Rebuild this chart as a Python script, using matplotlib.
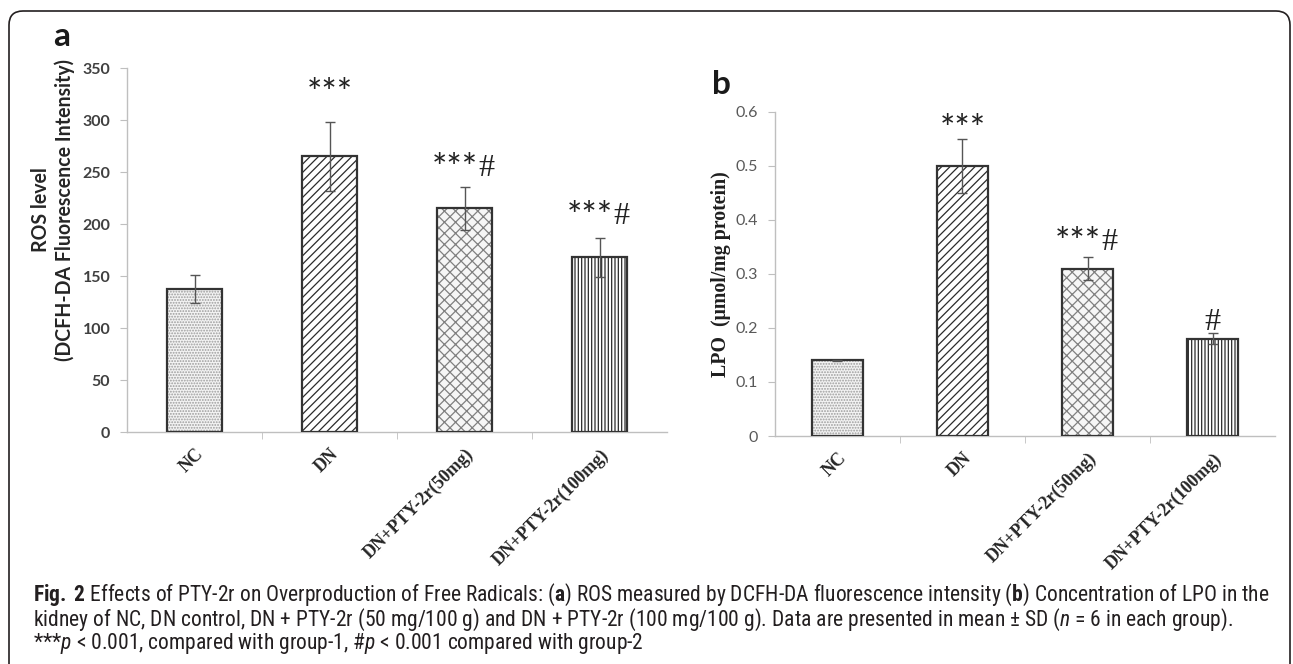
import matplotlib
matplotlib.use('Agg')
import matplotlib.pyplot as plt
from matplotlib.patches import FancyBboxPatch
from matplotlib.transforms import IdentityTransform
from matplotlib import font_manager
import numpy as np

# ---------------- data ----------------
categories = ['NC', 'DN', 'DN+PTY-2r(50mg)', 'DN+PTY-2r(100mg)']
ros_mean = [137.5, 265, 215, 168]
ros_sd = [13, 33, 21, 19]
ros_marks = ['', '***', '***#', '***#']
lpo_mean = [0.14, 0.50, 0.31, 0.18]
lpo_sd = [0.001, 0.05, 0.022, 0.01]
lpo_marks = ['', '***', '***#', '#']
ros_ticks = [0, 50, 100, 150, 200, 250, 300, 350]
ros_ticklabels = ['0', '50', '100', '150', '200', '250', '300', '350']
lpo_ticks = [0, 0.1, 0.2, 0.3, 0.4, 0.5, 0.6]
lpo_ticklabels = ['0', '0.1', '0.2', '0.3', '0.4', '0.5', '0.6']
ros_ylabel = 'ROS level\n(DCFH-DA Fluorescence Intensity)'
lpo_ylabel = 'LPO  (\u03bcmol/mg protein)'
caption_lines = [
    r'$\mathbf{Fig.}$ $\mathbf{2}$ Effects of PTY-2r on Overproduction of Free Radicals: ($\mathbf{a}$) ROS measured by DCFH-DA fluorescence intensity ($\mathbf{b}$) Concentration of LPO in the',
    r'kidney of NC, DN control, DN + PTY-2r (50 mg/100 g) and DN + PTY-2r (100 mg/100 g). Data are presented in mean $\pm$ SD ($\mathit{n}$ = 6 in each group).',
    r'***$\mathit{p}$ < 0.001, compared with group-1, #$\mathit{p}$ < 0.001 compared with group-2',
]

# ---------------- fonts ----------------
avail = {f.name for f in font_manager.fontManager.ttflist}
def pick(*names):
    for n in names:
        if n in avail:
            return n
    return 'DejaVu Sans'
SANS_B = pick('Lato', 'Open Sans', 'Liberation Sans')
SERIF = pick('Liberation Serif', 'DejaVu Serif')
CAP = pick('Liberation Sans Narrow', 'Roboto Condensed', 'Open Sans', 'Liberation Sans')
TICKF = pick('Lato', 'Open Sans', 'Liberation Sans')

plt.rcParams['mathtext.fontset'] = 'custom'
plt.rcParams['mathtext.rm'] = CAP
plt.rcParams['mathtext.bf'] = CAP + ':bold'
plt.rcParams['mathtext.it'] = CAP + ':italic'
plt.rcParams['hatch.linewidth'] = 0.9

W, H = 1293, 664
fig = plt.figure(figsize=(W / 100, H / 100), dpi=100)
fig.patch.set_facecolor('white')
renderer = fig.canvas.get_renderer()

def px_rect(l, r, top, bottom):
    return [l / W, 1 - bottom / H, (r - l) / W, (bottom - top) / H]

def fx(px):
    return px / W

def fy(py):
    return 1 - py / H

def fit(t, target, dim='width'):
    bb = t.get_window_extent(renderer)
    cur = bb.width if dim == 'width' else bb.height
    t.set_fontsize(t.get_fontsize() * target / cur)

axA = fig.add_axes(px_rect(127, 667, 68, 432))
axB = fig.add_axes(px_rect(775, 1275, 112, 436))

bar_styles = [
    dict(fc='#f3f3f3', hc='#9c9c9c', hatch='......'),
    dict(fc='white', hc='#2b2b2b', hatch='////'),
    dict(fc='#f6f6f6', hc='#808080', hatch='xxx'),
    dict(fc='white', hc='#2b2b2b', hatch='|||||'),
]

def draw_panel(ax, means, sds, marks, ticks, ticklabels, ylim, tick_bold, mark_offsets_px):
    x = np.arange(len(categories))
    width = 0.41
    for i in range(len(categories)):
        st = bar_styles[i]
        ax.bar(x[i], means[i], width, color=st['fc'], edgecolor=st['hc'],
               hatch=st['hatch'], linewidth=0, zorder=2)
        ax.bar(x[i], means[i], width, fill=False, edgecolor='#333333',
               linewidth=1.6, zorder=3)
    ax.errorbar(x, means, yerr=sds, fmt='none', ecolor='#555555',
                elinewidth=1.0, capsize=3.5, capthick=1.0, zorder=4)
    ax.set_xlim(-0.5, len(categories) - 0.5)
    ax.set_ylim(*ylim)
    for s in ['top', 'right']:
        ax.spines[s].set_visible(False)
    for s in ['left', 'bottom']:
        ax.spines[s].set_color('#bfbfbf')
        ax.spines[s].set_linewidth(1.0)
    ax.set_yticks(ticks)
    ax.set_yticklabels(ticklabels, fontfamily=TICKF,
                       fontweight='bold' if tick_bold else 'normal',
                       color='#404040' if tick_bold else '#595959', fontsize=11.5)
    ax.tick_params(axis='y', length=5, color='#bfbfbf', pad=7)
    ax.set_xticks(x)
    ax.set_xticklabels(categories, rotation=45, ha='right', rotation_mode='anchor',
                       fontfamily=SERIF, fontweight='bold', fontsize=13, color='#262626')
    ax.tick_params(axis='x', which='major', length=0, pad=10)
    ax.set_xticks(np.arange(0.5, len(categories) - 0.5, 1.0), minor=True)
    ax.tick_params(axis='x', which='minor', length=5, color='#bfbfbf', direction='out')
    ax.patch.set_alpha(0)
    for i, m in enumerate(marks):
        if not m:
            continue
        top = means[i] + sds[i]
        dy = mark_offsets_px[i] * 0.72
        if m.startswith('***') and m.endswith('#'):
            ax.annotate('***', xy=(x[i], top), xytext=(10, dy), textcoords='offset points',
                        ha='right', va='center', fontsize=26, fontfamily=SANS_B, color='#222222')
            ax.annotate('#', xy=(x[i], top), xytext=(10, dy + 1), textcoords='offset points',
                        ha='left', va='center', fontsize=23, fontfamily=SERIF, color='#222222')
        elif m == '***':
            ax.annotate('***', xy=(x[i], top), xytext=(0, dy), textcoords='offset points',
                        ha='center', va='center', fontsize=26, fontfamily=SANS_B, color='#222222')
        else:
            ax.annotate('#', xy=(x[i], top), xytext=(0, dy + 1), textcoords='offset points',
                        ha='center', va='center', fontsize=23, fontfamily=SERIF, color='#222222')

draw_panel(axA, ros_mean, ros_sd, ros_marks, ros_ticks, ros_ticklabels, (0, 350), True,
           [0, 28, 17, 20])
draw_panel(axB, lpo_mean, lpo_sd, lpo_marks, lpo_ticks, lpo_ticklabels, (0, 0.6), False,
           [0, 8, 13, 10])

# y labels
ta = fig.text(fx(53), fy(210), ros_ylabel, rotation=90, ha='center', va='center',
              multialignment='center', fontfamily=SANS_B, fontweight='bold', fontsize=12,
              color='#262626', linespacing=1.15)
t_long = fig.text(0, 0, ros_ylabel.split('\n')[1], fontfamily=SANS_B, fontweight='bold', fontsize=12)
bbw = t_long.get_window_extent(renderer).width
ta.set_fontsize(12 * 300 / bbw)
t_long.remove()

tb = fig.text(fx(721), fy(274), lpo_ylabel, rotation=90, ha='center', va='center',
              fontfamily=SERIF, fontweight='bold', fontsize=12, color='#1f1f1f')
fit(tb, 205, 'height')

# panel letters
fig.text(fx(62), fy(37), 'a', ha='center', va='center', fontfamily=SANS_B,
         fontweight='bold', fontsize=24, color='#1a1a1a')
fig.text(fx(721), fy(84), 'b', ha='center', va='center', fontfamily=SANS_B,
         fontweight='bold', fontsize=24, color='#1a1a1a')

# caption
cap_y = [595, 620, 644]
caps = []
for i, line in enumerate(caption_lines):
    t = fig.text(fx(33), fy(cap_y[i]), line, ha='left', va='center', fontfamily=CAP,
                 fontsize=12, color='#231f20')
    caps.append(t)
w0 = caps[0].get_window_extent(renderer).width
for t in caps:
    t.set_fontsize(12 * 1237 / w0)

# frame
frame = FancyBboxPatch((9, -60), 1281, (H - 11) + 60,
                       boxstyle='round,pad=0,rounding_size=14',
                       transform=IdentityTransform(), fill=False,
                       edgecolor='#231f20', linewidth=1.2)
fig.add_artist(frame)

fig.savefig('out.png', dpi=100, facecolor='white')
